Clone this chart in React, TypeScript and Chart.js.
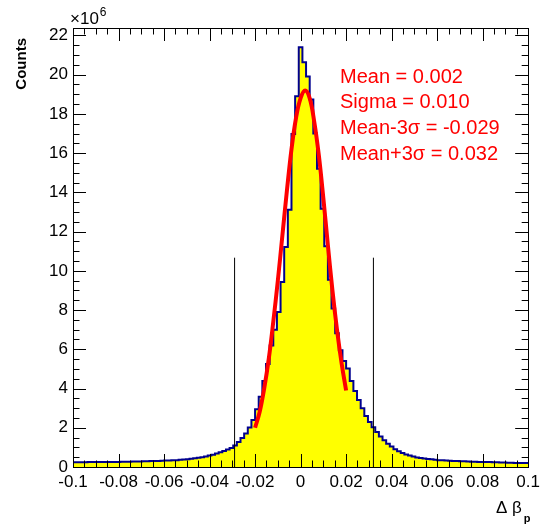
import React, { useEffect, useRef } from 'react';
import { Chart, registerables } from 'chart.js';

Chart.register(...registerables);

// ---- data (y values in units of 10^6 counts) ----
const BIN_LOW = -0.1;
const BIN_WIDTH = 0.0016;
const COUNTS = [
  0.24, 0.24, 0.24, 0.24, 0.25, 0.25, 0.25, 0.25, 0.25, 0.26,
  0.26, 0.26, 0.26, 0.27, 0.27, 0.27, 0.28, 0.28, 0.28, 0.29,
  0.29, 0.30, 0.30, 0.31, 0.32, 0.33, 0.33, 0.34, 0.35, 0.37,
  0.38, 0.40, 0.42, 0.44, 0.47, 0.50, 0.54, 0.58, 0.63, 0.69,
  0.75, 0.82, 0.89, 0.97, 1.10, 1.27, 1.48, 1.71, 2.02, 2.40,
  2.95, 3.58, 4.38, 5.25, 6.20, 7.00, 7.90, 9.43, 11.21, 13.11,
  16.98, 18.90, 21.40, 20.63, 19.91, 18.73, 17.00, 15.20, 13.17, 11.25,
  9.55, 8.08, 6.82, 5.95, 5.40, 5.02, 4.38, 3.87, 3.41, 2.99,
  2.60, 2.30, 2.03, 1.78, 1.55, 1.36, 1.19, 1.04, 0.91, 0.80,
  0.71, 0.64, 0.58, 0.53, 0.49, 0.46, 0.43, 0.41, 0.39, 0.37,
  0.35, 0.34, 0.33, 0.32, 0.31, 0.30, 0.29, 0.29, 0.28, 0.27,
  0.27, 0.26, 0.26, 0.25, 0.25, 0.24, 0.24, 0.23, 0.23, 0.22,
  0.22, 0.21, 0.21, 0.21, 0.20,
];

const FIT_X = [
  -0.02, -0.018, -0.016, -0.014, -0.012, -0.01, -0.008, -0.006, -0.004, -0.002, 0,
  0.002, 0.004, 0.006, 0.008, 0.01, 0.012, 0.014, 0.016, 0.018, 0.02,
];
const FIT_Y = [
  2.0, 2.8, 4.0, 5.5, 7.4, 9.5, 11.8, 14.1, 16.2, 17.8, 18.8,
  19.2, 18.8, 17.6, 15.9, 13.7, 11.3, 9.0, 7.0, 5.3, 3.9,
];

const CUT_X = [-0.029, 0.032];
const CUT_TOP = 10.67;

const X_MIN = -0.1;
const X_MAX = 0.1;
const X_STEP = 0.02;
const X_MINOR = 0.005;
const Y_MIN = 0;
const Y_MAX = 22.38;
const Y_STEP = 2;
const Y_MINOR = 0.5;

const STATS = ['Mean = 0.002', 'Sigma = 0.010', 'Mean-3\u03c3 = -0.029', 'Mean+3\u03c3 = 0.032'];
const Y_TITLE = 'Counts';
const Y_EXP = '\u00d710';
const Y_EXP_POW = '6';
const X_TITLE_A = '\u0394 \u03b2';
const X_TITLE_SUB = 'p';

const FONT = '"Liberation Sans", Arial, Helvetica, sans-serif';

export default function App() {
  const ref = useRef<HTMLCanvasElement>(null);

  useEffect(() => {
    if (!ref.current) return;

    const histPts = COUNTS.map((v, i) => ({ x: BIN_LOW + i * BIN_WIDTH, y: v }));
    histPts.push({ x: BIN_LOW + COUNTS.length * BIN_WIDTH, y: COUNTS[COUNTS.length - 1] });
    const fitPts = FIT_X.map((x, i) => ({ x, y: FIT_Y[i] }));

    const decor = {
      id: 'rootDecor',
      afterDraw(chart: any) {
        const ctx = chart.ctx as CanvasRenderingContext2D;
        const { left, right, top, bottom } = chart.chartArea;
        const xs = chart.scales.x;
        const ys = chart.scales.y;
        ctx.save();
        ctx.strokeStyle = '#000';
        ctx.lineWidth = 1;
        // frame
        ctx.strokeRect(Math.round(left) + 0.5, Math.round(top) + 0.5, Math.round(right - left), Math.round(bottom - top));
        const MAJ = 13;
        const MIN = 6.5;
        ctx.beginPath();
        const nx = Math.round((X_MAX - X_MIN) / X_MINOR);
        for (let i = 0; i <= nx; i++) {
          const v = X_MIN + i * X_MINOR;
          const r = v / X_STEP;
          const major = Math.abs(r - Math.round(r)) < 1e-6;
          const len = major ? MAJ : MIN;
          const px = Math.round(xs.getPixelForValue(v)) + 0.5;
          ctx.moveTo(px, bottom);
          ctx.lineTo(px, bottom - len);
          ctx.moveTo(px, top);
          ctx.lineTo(px, top + len);
        }
        const ny = Math.floor((Y_MAX - Y_MIN) / Y_MINOR + 1e-6);
        for (let i = 0; i <= ny; i++) {
          const v = Y_MIN + i * Y_MINOR;
          const r = v / Y_STEP;
          const major = Math.abs(r - Math.round(r)) < 1e-6;
          const len = major ? MAJ : MIN;
          const py = Math.round(ys.getPixelForValue(v)) + 0.5;
          ctx.moveTo(left, py);
          ctx.lineTo(left + len, py);
          ctx.moveTo(right, py);
          ctx.lineTo(right - len, py);
        }
        ctx.stroke();

        // stats text
        ctx.fillStyle = '#ff0000';
        ctx.font = `20px ${FONT}`;
        ctx.textAlign = 'left';
        ctx.textBaseline = 'alphabetic';
        const baselines = [83, 108, 134, 160];
        STATS.forEach((s, i) => ctx.fillText(s, 340, baselines[i]));

        // y exponent
        ctx.fillStyle = '#000';
        ctx.font = `17px ${FONT}`;
        ctx.fillText(Y_EXP, 70, 24);
        const w = ctx.measureText(Y_EXP).width;
        ctx.font = `12px ${FONT}`;
        ctx.fillText(Y_EXP_POW, 70 + w + 1, 16);

        // y title
        ctx.save();
        ctx.translate(26, 38);
        ctx.rotate(-Math.PI / 2);
        ctx.font = `bold 15px ${FONT}`;
        ctx.textAlign = 'right';
        ctx.fillText(Y_TITLE, 0, 0);
        ctx.restore();

        // x title
        ctx.font = `17px ${FONT}`;
        ctx.textAlign = 'left';
        ctx.fillText(X_TITLE_A, 496, 513);
        const wa = ctx.measureText(X_TITLE_A).width;
        ctx.font = `bold 11px ${FONT}`;
        ctx.fillText(X_TITLE_SUB, 496 + wa + 2, 522);
        ctx.restore();
      },
    };

    const chart = new Chart(ref.current, {
      type: 'line',
      data: {
        datasets: [
          {
            label: 'fit',
            data: fitPts,
            borderColor: '#ff0000',
            borderWidth: 4,
            pointRadius: 0,
            tension: 0.4,
            fill: false,
            order: 1,
          },
          {
            label: 'cutL',
            data: [{ x: CUT_X[0], y: 0 }, { x: CUT_X[0], y: CUT_TOP }],
            borderColor: '#000',
            borderWidth: 1,
            pointRadius: 0,
            fill: false,
            order: 2,
          },
          {
            label: 'cutR',
            data: [{ x: CUT_X[1], y: 0 }, { x: CUT_X[1], y: CUT_TOP }],
            borderColor: '#000',
            borderWidth: 1,
            pointRadius: 0,
            fill: false,
            order: 2,
          },
          {
            label: 'hist',
            data: histPts,
            borderColor: '#00008f',
            backgroundColor: '#ffff00',
            borderWidth: 2,
            pointRadius: 0,
            stepped: 'before',
            fill: 'origin',
            order: 3,
          },
        ],
      },
      options: {
        animation: false,
        responsive: false,
        events: [],
        layout: { padding: { top: 28, right: 12, left: 0, bottom: 0 } },
        plugins: { legend: { display: false }, tooltip: { enabled: false } },
        scales: {
          x: {
            type: 'linear',
            min: X_MIN,
            max: X_MAX,
            grid: { display: false, drawTicks: false },
            border: { display: false },
            ticks: {
              stepSize: X_STEP,
              includeBounds: false,
              padding: 5,
              color: '#000',
              font: { family: FONT, size: 17 },
              maxRotation: 0,
              autoSkip: false,
              callback: (v: any) => String(Number(Number(v).toFixed(3))),
            },
            afterFit: (s: any) => { s.height = 60; },
          },
          y: {
            type: 'linear',
            min: Y_MIN,
            max: Y_MAX,
            grid: { display: false, drawTicks: false },
            border: { display: false },
            ticks: {
              stepSize: Y_STEP,
              includeBounds: false,
              padding: 5,
              color: '#000',
              font: { family: FONT, size: 17 },
              autoSkip: false,
              callback: (v: any) => String(Math.round(Number(v))),
            },
            afterFit: (s: any) => { s.width = 73; },
          },
        },
      },
      plugins: [decor],
    });

    return () => chart.destroy();
  }, []);

  return (
    <div style={{ position: 'fixed', left: 0, top: 0, width: 545, height: 527, background: '#fff' }}>
      <canvas ref={ref} width={545} height={527} style={{ display: 'block' }} />
    </div>
  );
}
